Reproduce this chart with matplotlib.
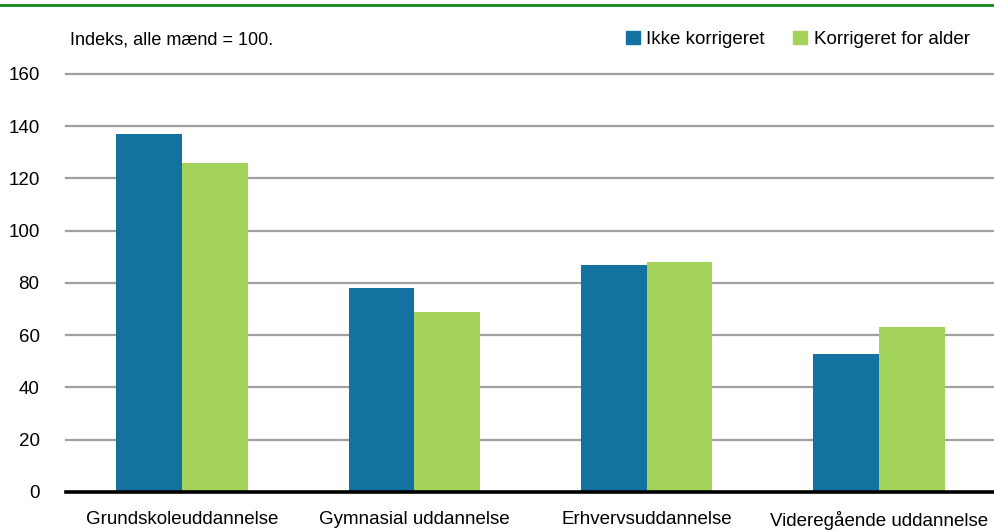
import matplotlib.pyplot as plt
from matplotlib.lines import Line2D
from matplotlib.patches import Patch
import numpy as np

plt.rcParams['font.family'] = ['Liberation Sans', 'DejaVu Sans']

categories = ["Grundskoleuddannelse", "Gymnasial uddannelse", "Erhvervsuddannelse", "Videregående uddannelse"]
ikke_korrigeret = [137, 78, 87, 53]
korrigeret_alder = [126, 69, 88, 63]
y_ticks = [0, 20, 40, 60, 80, 100, 120, 140, 160]

blue = "#1472a0"
green = "#a3d35a"

fig = plt.figure(figsize=(9.95, 5.3), dpi=100)
ax = fig.add_axes([0.0663, 0.0717, 0.9337, 0.7887])

x = np.arange(len(categories))
w = 0.283
ax.bar(x - w / 2, ikke_korrigeret, width=w, color=blue, zorder=3)
ax.bar(x + w / 2, korrigeret_alder, width=w, color=green, zorder=3)

ax.set_xlim(-0.5, len(categories) - 0.5)
ax.set_ylim(0, 160)
ax.set_yticks(y_ticks)
ax.grid(axis="y", color="#a0a0a0", linewidth=1.6, zorder=0)
for gl in ax.get_ygridlines():
    gl.set_clip_on(False)
ax.set_xticks(x)
ax.set_xticklabels(categories, fontsize=13.5)
ax.tick_params(axis="x", length=0, pad=14)
ax.tick_params(axis="y", length=0, pad=19, labelsize=13.5)
for s in ["top", "right", "left"]:
    ax.spines[s].set_visible(False)
ax.spines["bottom"].set_linewidth(2.6)
ax.spines["bottom"].set_color("black")
ax.spines["bottom"].set_zorder(4)

fig.text(0.0705, 0.925, "Indeks, alle mænd = 100.", fontsize=13, va="center", ha="left")

handles = [Patch(color=blue, label="Ikke korrigeret"), Patch(color=green, label="Korrigeret for alder")]
fig.legend(handles=handles, loc="center right", bbox_to_anchor=(0.982, 0.926), ncol=2, frameon=False,
           fontsize=13.5, handlelength=0.75, handleheight=0.75, handletextpad=0.35, columnspacing=1.5,
           borderaxespad=0)

# green line at the top
fig.add_artist(Line2D([0, 1], [0.99, 0.99], transform=fig.transFigure, color="#108a1e", linewidth=2))

fig.savefig("out.png", dpi=100)
